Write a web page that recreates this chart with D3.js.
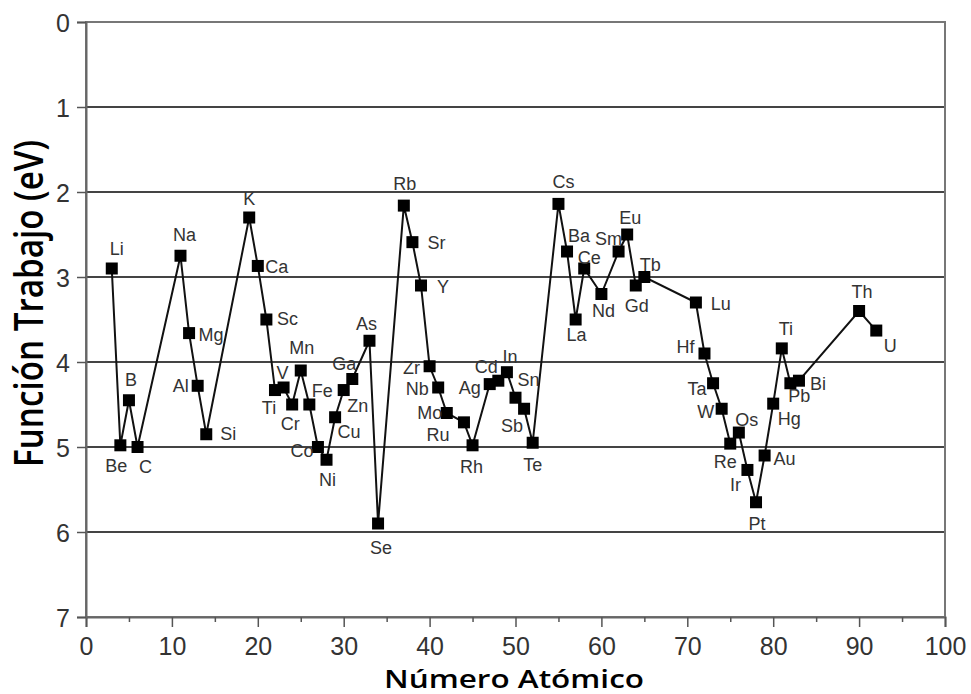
<!DOCTYPE html>
<html>
<head>
<meta charset="utf-8">
<script src="https://cdn.jsdelivr.net/npm/d3@7"></script>
<style>
  body { margin: 0; background: #fff; }
  svg { display: block; }
</style>
</head>
<body>
<div id="chart"></div>
<script>
// elementos: numero atomico, simbolo, funcion trabajo (eV)
const symbols = ["Li","Be","B","C","Na","Mg","Al","Si","K","Ca","Sc","Ti","V","Cr","Mn","Fe","Co","Ni","Cu","Zn","Ga","As","Se",
  "Rb","Sr","Y","Zr","Nb","Mo","Ru","Rh","Ag","Cd","In","Sn","Sb","Te","Cs","Ba","La","Ce","Nd","Sm","Eu","Gd","Tb",
  "Lu","Hf","Ta","W","Re","Os","Ir","Pt","Au","Hg","Ti","Pb","Bi","Th","U"];
const atomicNumber = [3,4,5,6,11,12,13,14,19,20,21,22,23,24,25,26,27,28,29,30,31,33,34,
  37,38,39,40,41,42,44,45,47,48,49,50,51,52,55,56,57,58,60,62,63,64,65,
  71,72,73,74,75,76,77,78,79,80,81,82,83,90,92];
const workFunction = [2.9,4.98,4.45,5.0,2.75,3.66,4.28,4.85,2.3,2.87,3.5,4.33,4.3,4.5,4.1,4.5,5.0,5.15,4.65,4.33,4.2,3.75,5.9,
  2.16,2.59,3.1,4.05,4.3,4.6,4.71,4.98,4.26,4.22,4.12,4.42,4.55,4.95,2.14,2.7,3.5,2.9,3.2,2.7,2.5,3.1,3.0,
  3.3,3.9,4.25,4.55,4.96,4.83,5.27,5.65,5.1,4.49,3.84,4.25,4.22,3.4,3.63];
const xTicks = [0,10,20,30,40,50,60,70,80,90,100];
const yTicks = [0,1,2,3,4,5,6,7];

// desplazamiento de cada etiqueta respecto a su punto [dx, dy]
const labelOffset = [[5,-20],[-4,20],[2,-21],[8,20],[4,-21],[22,2],[-17,0],[22,-1],[0,-19],[19,1],[21,-1],[-6,18],[-1,-15],[-2,19],[1,-23],[13,-14],[-16,4],[1,20],
  [14,14],[14,16],[-8,-15],[-3,-17],[3,24],[1,-22],[24,1],[22,1],[-18,1],[-21,1],[-17,0],[-26,12],[-1,21],[-20,4],[-12,-14],[3,-16],[13,-18],[-12,17],[0,22],
  [5,-22],[12,-16],[1,15],[5,-11],[2,17],[-10,-13],[3,-17],[1,20],[6,-12],[25,1],[-19,-7],[-16,5],[-16,3],[-5,18],[8,-13],[-12,15],[1,21],[20,3],[16,15],[4,-20],[9,12],[19,3],[3,-19],[14,15]];

const width = 971, height = 694;
const margin = { top: 22, right: 26, bottom: 77, left: 86 };

const svg = d3.select("#chart").append("svg")
  .attr("width", width)
  .attr("height", height);

const x = d3.scaleLinear().domain([0, 100]).range([margin.left, width - margin.right]);
const y = d3.scaleLinear().domain([0, 7]).range([margin.top, height - margin.bottom]);

// lineas de cuadricula horizontales
svg.append("g")
  .selectAll("line")
  .data(yTicks.slice(1, -1))
  .enter().append("line")
  .attr("x1", x(0)).attr("x2", x(100))
  .attr("y1", d => y(d)).attr("y2", d => y(d))
  .attr("stroke", "#444")
  .attr("stroke-width", 2);

// marco
svg.append("rect")
  .attr("x", x(0)).attr("y", y(0))
  .attr("width", x(100) - x(0)).attr("height", y(7) - y(0))
  .attr("fill", "none")
  .attr("stroke", "#777")
  .attr("stroke-width", 2);

const tickFont = "'Liberation Sans', Arial, sans-serif";

// eje x
svg.append("g")
  .attr("transform", `translate(0,${y(7)})`)
  .call(d3.axisBottom(x).tickValues(xTicks).tickSize(10).tickPadding(10));
svg.append("g")
  .attr("transform", `translate(0,${y(7)})`)
  .call(d3.axisBottom(x).tickValues(d3.range(5, 100, 10)).tickSize(5).tickFormat(""))
  .call(g => g.select(".domain").remove());

// eje y
const yAxis = svg.append("g")
  .attr("transform", `translate(${x(0)},0)`)
  .call(d3.axisLeft(y).tickValues(yTicks).tickSize(9).tickPadding(7).tickFormat(d3.format("d")));

svg.selectAll(".domain").attr("stroke", "#666").attr("stroke-width", 2);
svg.selectAll(".tick line").attr("stroke", "#555").attr("stroke-width", 1.5);
svg.selectAll(".tick text")
  .attr("font-family", tickFont)
  .attr("font-size", 25)
  .attr("fill", "#333");
yAxis.selectAll(".tick text").attr("dy", "0.36em");

// serie
const pts = atomicNumber.map((z, i) => ({ z, w: workFunction[i], s: symbols[i], off: labelOffset[i] }));

svg.append("path")
  .datum(pts)
  .attr("fill", "none")
  .attr("stroke", "#111")
  .attr("stroke-width", 2)
  .attr("d", d3.line().x(d => x(d.z)).y(d => y(d.w)));

const sq = 12;
svg.append("g")
  .selectAll("rect")
  .data(pts)
  .enter().append("rect")
  .attr("x", d => x(d.z) - sq / 2)
  .attr("y", d => y(d.w) - sq / 2)
  .attr("width", sq).attr("height", sq)
  .attr("fill", "#000");

svg.append("g")
  .selectAll("text")
  .data(pts)
  .enter().append("text")
  .attr("x", d => x(d.z) + d.off[0])
  .attr("y", d => y(d.w) + d.off[1])
  .attr("dy", "0.35em")
  .attr("text-anchor", "middle")
  .attr("font-family", "'Liberation Sans', Arial, sans-serif")
  .attr("font-size", 18)
  .attr("fill", "#333")
  .text(d => d.s);

// titulos de ejes
svg.append("text")
  .attr("transform", "translate(514,688) scale(1.26,1)")
  .attr("text-anchor", "middle")
  .attr("font-family", "'Open Sans', sans-serif")
  .attr("font-weight", 600)
  .attr("font-size", 25)
  .attr("fill", "#000")
  .text("Número Atómico");

svg.append("text")
  .attr("transform", `translate(43,${(140 + 467) / 2}) scale(1.4,1) rotate(-90)`)
  .attr("text-anchor", "middle")
  .attr("textLength", 327)
  .attr("lengthAdjust", "spacingAndGlyphs")
  .attr("font-family", "'Open Sans', sans-serif")
  .attr("font-weight", 600)
  .attr("font-size", 29)
  .attr("fill", "#000")
  .text("Función Trabajo (eV)");
</script>
</body>
</html>
